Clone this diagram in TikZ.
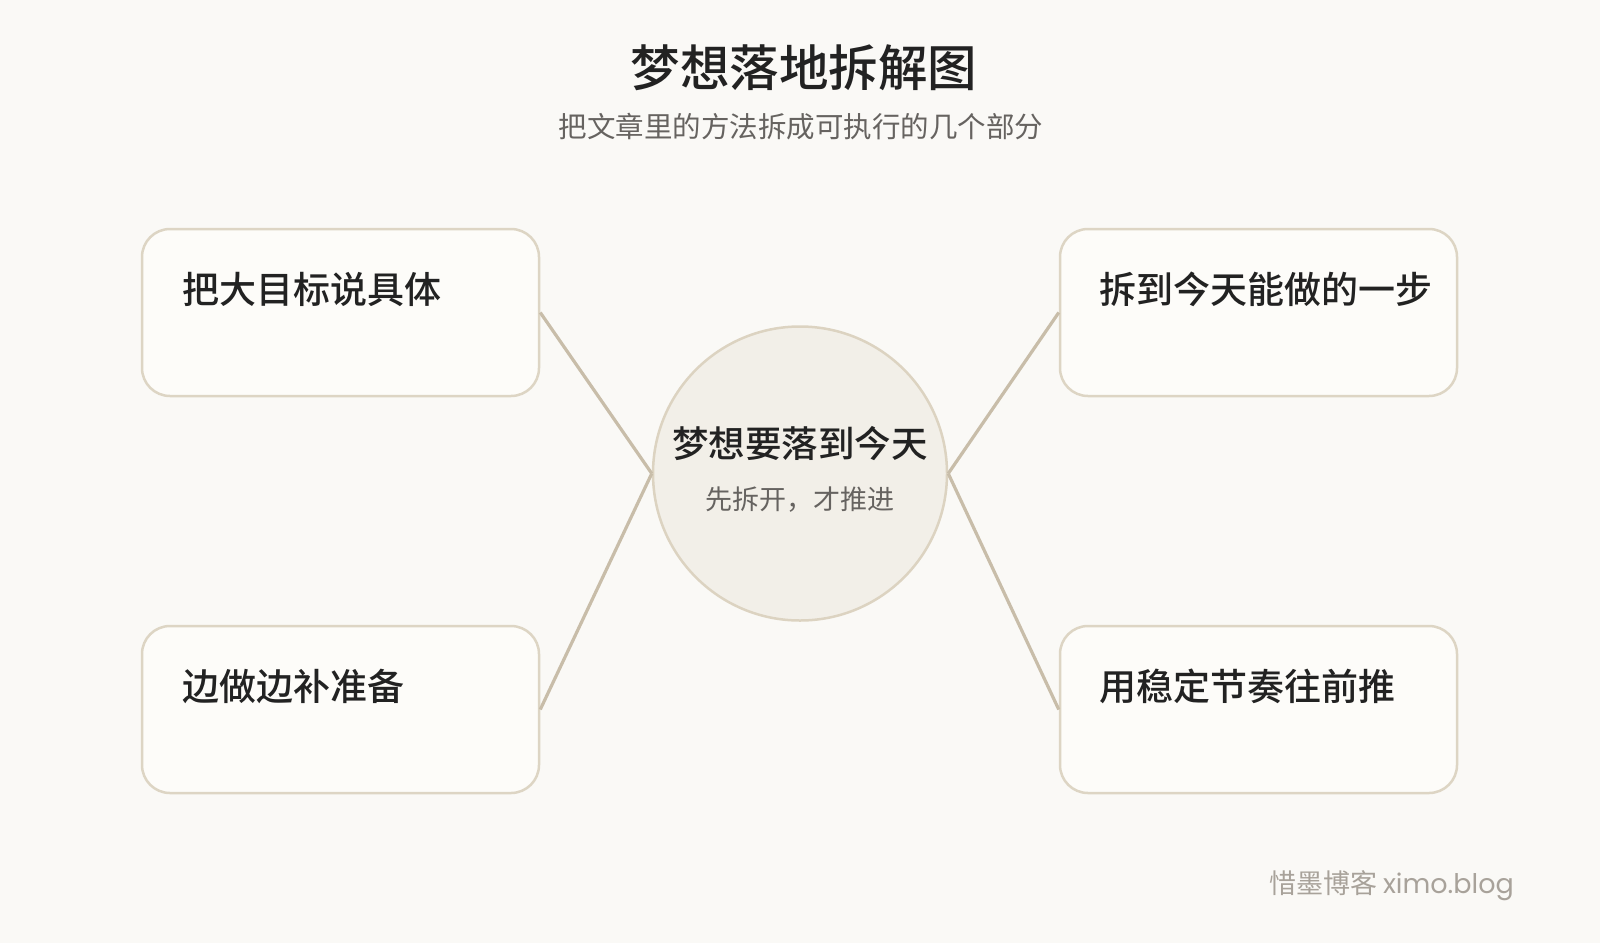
\documentclass[tikz,border=0pt]{standalone}
\usepackage{fontspec}
\setmainfont{Noto Sans CJK SC}
\newfontfamily\medfont{Noto Sans CJK SC Medium}
\newfontfamily\latinmark{Poppins}
\definecolor{bgc}{HTML}{FAF9F6}
\definecolor{boxfill}{HTML}{FDFCF9}
\definecolor{boxline}{HTML}{DDD5C4}
\definecolor{circfill}{HTML}{F2EFE8}
\definecolor{circline}{HTML}{DCD3C1}
\definecolor{connc}{HTML}{C8BDA9}
\definecolor{darktext}{HTML}{222222}
\definecolor{subtext}{HTML}{666360}
\definecolor{marktext}{HTML}{A8A29A}
\begin{document}
\begin{tikzpicture}[x=1pt,y=-1pt,
  stepbox/.style={draw=boxline, line width=2.5pt, fill=boxfill, rounded corners=28pt,
    minimum width=397pt, minimum height=167pt, inner sep=0pt},
  hub/.style={circle, draw=circline, line width=2.5pt, fill=circfill, minimum size=294pt, inner sep=0pt},
  conn/.style={draw=connc, line width=3.2pt},
  boxlabel/.style={anchor=west, inner sep=0pt, text=darktext, font=\fontsize{37}{40}\selectfont\medfont},
]
\fill[bgc] (0,0) rectangle (1600,943);
\useasboundingbox (0,0) rectangle (1600,943);

% title
\node[inner sep=0pt, text=darktext, font=\fontsize{49.5}{54}\selectfont\medfont] (title) at (804,67.5) {梦想落地拆解图};
\node[inner sep=0pt, text=subtext, font=\fontsize{28.5}{32}\selectfont] (subtitle) at (801,126.5) {把文章里的方法拆成可执行的几个部分};

% hub
\node[hub] (hub) at (800,473.5) {};
\node[inner sep=0pt, text=darktext, font=\fontsize{36.5}{40}\selectfont\medfont] (hubtitle) at (800,443.5) {梦想要落到今天};
\node[inner sep=0pt, text=subtext, font=\fontsize{27}{30}\selectfont] (hubsub) at (800,500) {先拆开，才推进};

% boxes
\node[stepbox] (b1) at (340.5,312.5) {};
\node[stepbox] (b2) at (1258.5,312.5) {};
\node[stepbox] (b3) at (340.5,709.5) {};
\node[stepbox] (b4) at (1258.5,709.5) {};

\node[boxlabel] (t1) at (182,289) {把大目标说具体};
\node[boxlabel] (t2) at (1099,289) {拆到今天能做的一步};
\node[boxlabel] (t3) at (182,686) {边做边补准备};
\node[boxlabel] (t4) at (1099,686) {用稳定节奏往前推};

% connectors
\draw[conn] (b1.east) -- (hub.west);
\draw[conn] (b3.east) -- (hub.west);
\draw[conn] (b2.west) -- (hub.east);
\draw[conn] (b4.west) -- (hub.east);

% watermark
\node[anchor=east, inner sep=0pt, text=marktext, font=\fontsize{27}{30}\selectfont] (mark) at (1514,886) {惜墨博客 {\latinmark ximo.blog}};
\end{tikzpicture}
\end{document}
